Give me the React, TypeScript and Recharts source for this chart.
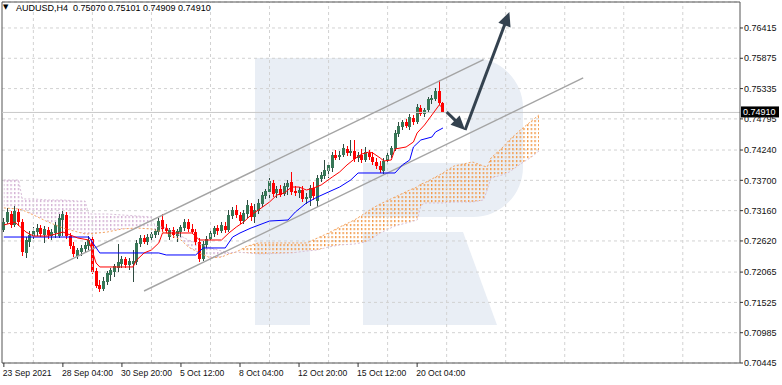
import React from 'react';
import { ComposedChart, Bar, Line, Area, XAxis, YAxis, CartesianGrid, ReferenceLine } from 'recharts';

const FONT = '"Liberation Sans", Arial, sans-serif';
const BULL = '#367656';
const BULL_WICK = '#2E4A40';
const BEAR = '#FF0000';

// AUDUSD H4, one entry per bar (bar 0 = 23 Sep 2021)
const opens = [
  0.72815, 0.72957, 0.73101, 0.72904, 0.73136, 0.72957, 0.72406, 0.72601, 0.72708, 0.72779,
  0.72851, 0.72726, 0.72815, 0.72708, 0.72762, 0.72708, 0.72993, 0.73083, 0.72708, 0.7253,
  0.72352, 0.72423, 0.72477, 0.7253, 0.72655, 0.72084, 0.71835, 0.71764, 0.71888, 0.72013,
  0.72066, 0.72138, 0.7221, 0.72299, 0.72191, 0.7221, 0.72245, 0.72566, 0.72673, 0.72601,
  0.72673, 0.72726, 0.72779, 0.72993, 0.72851, 0.7269, 0.72815, 0.72708, 0.72779, 0.72851,
  0.72957, 0.72833, 0.72779, 0.72601, 0.72299, 0.72548, 0.72655, 0.72744, 0.72851, 0.72797,
  0.72886, 0.72815, 0.73065, 0.73172, 0.73083, 0.72975, 0.73101, 0.73243, 0.73047, 0.73154,
  0.73279, 0.73421, 0.73493, 0.73653, 0.73475, 0.73546, 0.73457, 0.73581, 0.73671, 0.7351,
  0.73475, 0.73528, 0.73368, 0.73386, 0.73564, 0.73332, 0.73724, 0.73777, 0.73866, 0.7392,
  0.74152, 0.74116, 0.74152, 0.74259, 0.74187, 0.74223, 0.74098, 0.74152, 0.74063, 0.74187,
  0.74116, 0.74027, 0.73956, 0.73866, 0.74045, 0.74152, 0.74259, 0.74526, 0.74651, 0.7474,
  0.74651, 0.74811, 0.7474, 0.74989, 0.74883, 0.74954, 0.75132, 0.7515, 0.75292, 0.7507,
];
const highs = [
  0.7303, 0.73208, 0.73154, 0.73243, 0.7319, 0.73012, 0.7269, 0.72797, 0.72868, 0.72922,
  0.72904, 0.72886, 0.72868, 0.72833, 0.72957, 0.73101, 0.73154, 0.73136, 0.72762, 0.72601,
  0.72495, 0.72548, 0.72601, 0.72708, 0.72726, 0.72138, 0.71924, 0.71977, 0.72084, 0.72138,
  0.7221, 0.72566, 0.72352, 0.72334, 0.72317, 0.72459, 0.72637, 0.72726, 0.72726, 0.72744,
  0.72779, 0.72833, 0.7303, 0.73101, 0.72922, 0.72851, 0.72868, 0.72833, 0.72904, 0.73012,
  0.73012, 0.72922, 0.72833, 0.72673, 0.72619, 0.72708, 0.72815, 0.72886, 0.72904, 0.72957,
  0.72957, 0.73172, 0.73225, 0.73261, 0.73136, 0.73172, 0.7335, 0.73297, 0.73279, 0.73368,
  0.73493, 0.73546, 0.73742, 0.73706, 0.73599, 0.73617, 0.73653, 0.73706, 0.73849, 0.73599,
  0.73581, 0.73599, 0.73475, 0.73617, 0.73671, 0.73795, 0.73849, 0.74063, 0.74027, 0.74205,
  0.74241, 0.74223, 0.74348, 0.74312, 0.74419, 0.74419, 0.74205, 0.74259, 0.74294, 0.74241,
  0.74205, 0.74098, 0.74045, 0.74098, 0.74205, 0.74312, 0.74597, 0.7474, 0.74776, 0.74794,
  0.74883, 0.74865, 0.75061, 0.75043, 0.74989, 0.75185, 0.75221, 0.75346, 0.75488, 0.75101,
];
const lows = [
  0.72779, 0.72922, 0.72851, 0.72868, 0.72886, 0.72352, 0.72317, 0.72512, 0.72655, 0.72708,
  0.7269, 0.72584, 0.72655, 0.72637, 0.72673, 0.72673, 0.72708, 0.72655, 0.72477, 0.72334,
  0.72299, 0.72352, 0.72406, 0.72459, 0.72031, 0.71782, 0.7171, 0.71728, 0.71835, 0.71906,
  0.71977, 0.72066, 0.72138, 0.72138, 0.72102, 0.71888, 0.72191, 0.72512, 0.72566, 0.72548,
  0.72619, 0.72673, 0.72726, 0.72779, 0.72762, 0.72637, 0.72673, 0.72601, 0.7269, 0.72797,
  0.72779, 0.72744, 0.72548, 0.72245, 0.72263, 0.72495, 0.72601, 0.7269, 0.72726, 0.72762,
  0.72762, 0.72779, 0.73012, 0.7303, 0.72922, 0.72922, 0.7303, 0.72975, 0.7294, 0.73101,
  0.73225, 0.73368, 0.73368, 0.73403, 0.73386, 0.73403, 0.73421, 0.73439, 0.73439, 0.73421,
  0.73386, 0.73314, 0.73279, 0.73243, 0.7335, 0.73225, 0.73671, 0.73724, 0.73742, 0.73849,
  0.74063, 0.74063, 0.74116, 0.74134, 0.74134, 0.74027, 0.74027, 0.74009, 0.74027, 0.74063,
  0.73974, 0.73902, 0.73831, 0.73813, 0.73991, 0.74098, 0.74223, 0.74472, 0.74597, 0.74633,
  0.74597, 0.74686, 0.74704, 0.74847, 0.74829, 0.74918, 0.75061, 0.75114, 0.75043, 0.74909,
];
const closes = [
  0.72957, 0.73136, 0.72904, 0.73154, 0.72957, 0.72423, 0.72637, 0.72726, 0.72797, 0.72851,
  0.72744, 0.72833, 0.72726, 0.72779, 0.72904, 0.7303, 0.73101, 0.72708, 0.7253, 0.72388,
  0.72459, 0.72495, 0.72548, 0.72637, 0.72066, 0.71817, 0.71764, 0.71906, 0.72049, 0.72102,
  0.72173, 0.72245, 0.72299, 0.72191, 0.72263, 0.72263, 0.72584, 0.72673, 0.72601, 0.7269,
  0.72744, 0.72797, 0.72975, 0.72833, 0.72797, 0.72815, 0.72726, 0.72797, 0.72868, 0.72957,
  0.72833, 0.72779, 0.72601, 0.72299, 0.72566, 0.72655, 0.72762, 0.72851, 0.72797, 0.72904,
  0.72815, 0.73083, 0.73172, 0.73083, 0.72975, 0.73118, 0.73261, 0.73047, 0.73172, 0.73297,
  0.73439, 0.7351, 0.73688, 0.73457, 0.73546, 0.73439, 0.73599, 0.73653, 0.73493, 0.73475,
  0.73528, 0.73368, 0.73403, 0.73564, 0.73421, 0.73742, 0.73795, 0.73884, 0.73974, 0.74152,
  0.74098, 0.74152, 0.74276, 0.74187, 0.74223, 0.7408, 0.74152, 0.74063, 0.74205, 0.74116,
  0.74027, 0.73956, 0.73884, 0.74045, 0.74152, 0.74276, 0.74544, 0.74669, 0.7474, 0.74669,
  0.74829, 0.7474, 0.75007, 0.74883, 0.74954, 0.7515, 0.75168, 0.75292, 0.7507, 0.7491,
];

// Ichimoku lines, read at the bars where they change direction
const tenkanBars = [0, 3, 6, 8, 12, 16, 18, 20, 23, 25, 26, 35, 36, 38, 40, 42, 43, 51, 53, 59, 61, 63, 65, 67, 69, 72, 74, 76, 78, 80, 82, 84, 86, 89, 91, 93, 95, 97, 99, 100, 102, 103, 105, 106, 109, 111, 112, 114, 116, 118, 119];
const tenkanVals = [0.72904, 0.72957, 0.72779, 0.72708, 0.72708, 0.72779, 0.72726, 0.72673, 0.72637, 0.72227, 0.72156, 0.72156, 0.72281, 0.72406, 0.72459, 0.72584, 0.72762, 0.72762, 0.72637, 0.72637, 0.72762, 0.72868, 0.72957, 0.73083, 0.73172, 0.73314, 0.73439, 0.73475, 0.73581, 0.73581, 0.73528, 0.73564, 0.73617, 0.73759, 0.73849, 0.73974, 0.7408, 0.74169, 0.74205, 0.74187, 0.74098, 0.74045, 0.74063, 0.74259, 0.74294, 0.74383, 0.74544, 0.74686, 0.74865, 0.75043, 0.74989];
const kijunBars = [0, 23, 26, 42, 44, 52, 54, 60, 62, 64, 67, 72, 77, 79, 82, 85, 88, 91, 94, 96, 106, 108, 110, 111, 113, 116, 117, 119];
const kijunVals = [0.7269, 0.7269, 0.72406, 0.72406, 0.7237, 0.7237, 0.72495, 0.72495, 0.7269, 0.72762, 0.72851, 0.72975, 0.72993, 0.73136, 0.73297, 0.73403, 0.73493, 0.73581, 0.73706, 0.73831, 0.73831, 0.73974, 0.74063, 0.74294, 0.74419, 0.74472, 0.74562, 0.74633];
const cloudBars = [0, 4, 5, 8, 12, 16, 20, 22, 23, 28, 32, 36, 40, 41, 44, 48, 50, 53, 56, 59, 61, 63, 66, 69, 78, 82, 85, 88, 91, 95, 98, 100, 102, 106, 110, 112, 113, 114, 116, 119, 122, 127, 130, 131, 132, 135, 137, 140, 143, 145];
const spanAVals = [0.73208, 0.7319, 0.73172, 0.73083, 0.72957, 0.72851, 0.72779, 0.72744, 0.72744, 0.72779, 0.72833, 0.72851, 0.72833, 0.72815, 0.72762, 0.72637, 0.72512, 0.72406, 0.72317, 0.72334, 0.72388, 0.72423, 0.7253, 0.72584, 0.72584, 0.72584, 0.72673, 0.72762, 0.72868, 0.72993, 0.73118, 0.73208, 0.73279, 0.73403, 0.73528, 0.73581, 0.73635, 0.73653, 0.73724, 0.73831, 0.73956, 0.74027, 0.73956, 0.73938, 0.74098, 0.74276, 0.74419, 0.74597, 0.74758, 0.74865];
const spanBVals = [0.73706, 0.73706, 0.73368, 0.73368, 0.7335, 0.7335, 0.73332, 0.73332, 0.73101, 0.73101, 0.73083, 0.73065, 0.73047, 0.72886, 0.72851, 0.72708, 0.72637, 0.72566, 0.72495, 0.72441, 0.72406, 0.72423, 0.72406, 0.72388, 0.72406, 0.72441, 0.72459, 0.72512, 0.72548, 0.72566, 0.72601, 0.72673, 0.72762, 0.72886, 0.72957, 0.72993, 0.73243, 0.73297, 0.73297, 0.73297, 0.73314, 0.73314, 0.7335, 0.73528, 0.73742, 0.73795, 0.73849, 0.73991, 0.74116, 0.74223];

// drawn objects, in bar / price units
const upperChannel = [{ x: 12, y: 0.72093 }, { x: 130, y: 0.7585 }];
const lowerChannel = [{ x: 38, y: 0.71728 }, { x: 157, y: 0.75524 }];
const arrowDown = [{ x: 120, y: 0.74918 }, { x: 125, y: 0.74597 }];
const arrowUp = [{ x: 125, y: 0.74597 }, { x: 137, y: 0.767 }];
const lastPrice = 0.7491;

const BAR_SLOTS = 200;
const timeTicks = [0, 16, 32, 48, 64, 80, 96, 112];
const timeLabels = ['23 Sep 2021', '28 Sep 04:00', '30 Sep 20:00', '5 Oct 12:00', '8 Oct 04:00', '12 Oct 20:00', '15 Oct 12:00', '20 Oct 04:00'];
const gridBars = [8, 24, 40, 56, 72, 88, 104, 120, 136, 152, 168, 184];
const priceTicks = [0.70445, 0.70985, 0.71525, 0.72065, 0.7262, 0.7316, 0.737, 0.7424, 0.74795, 0.75335, 0.75875, 0.76415];
const Y_MIN = 0.70445;
const Y_MAX = 0.76878;

const rows: any[] = Array.from({ length: BAR_SLOTS }, (_, i) => ({ idx: i }));
opens.forEach((o, i) => {
  Object.assign(rows[i], { o, h: highs[i], l: lows[i], c: closes[i], range: [lows[i], highs[i]] });
});
tenkanBars.forEach((b, k) => { rows[b].tenkan = tenkanVals[k]; });
kijunBars.forEach((b, k) => { rows[b].kijun = kijunVals[k]; });
cloudBars.forEach((b, k) => {
  const a = spanAVals[k];
  const s = spanBVals[k];
  rows[b].spanA = a;
  rows[b].spanB = s;
  rows[b].upBand = a >= s ? [s, a] : [a, a];
  rows[b].downBand = s >= a ? [a, s] : [s, s];
});

const Candle = (props: any) => {
  const { x, y, width, height, payload } = props;
  if (!payload || payload.o == null || !isFinite(y) || !isFinite(height)) return <g />;
  const { o, h, l, c } = payload;
  const top = Math.min(y, y + height);
  const bottom = Math.max(y, y + height);
  const k = (bottom - top) / (h - l || 1e-9);
  const yO = top + (h - o) * k;
  const yC = top + (h - c) * k;
  const up = c >= o;
  const px = Math.round(x + width / 2 - 0.5);
  const bTop = Math.round(Math.min(yO, yC));
  const bH = Math.max(1, Math.round(Math.max(yO, yC)) - bTop);
  return (
    <g>
      <line x1={px + 0.5} x2={px + 0.5} y1={Math.round(top)} y2={Math.round(bottom)} stroke={up ? BULL_WICK : BEAR} strokeWidth={1} />
      <rect x={px - 1} y={bTop} width={3} height={bH} fill={up ? BULL : BEAR} />
    </g>
  );
};

const Arrow = (p: any) => {
  const { x1, y1, x2, y2 } = p;
  const ang = Math.atan2(y2 - y1, x2 - x1);
  const cos = Math.cos(ang);
  const sin = Math.sin(ang);
  const len = 14;
  const half = 6.5;
  const bx = x2 - len * cos;
  const by = y2 - len * sin;
  const pts = `${x2},${y2} ${bx + half * sin},${by - half * cos} ${bx - half * sin},${by + half * cos}`;
  return (
    <g>
      <line x1={x1} y1={y1} x2={bx + cos} y2={by + sin} stroke="#34424F" strokeWidth={3} />
      <polygon points={pts} fill="#34424F" />
    </g>
  );
};

const TimeTick = (props: any) => {
  const { x, y, payload } = props;
  const k = timeTicks.indexOf(payload.value);
  return (
    <text x={x - 1} y={y + 7} fontSize={8.6} fontFamily={FONT} fill="#111" textAnchor="start">
      {k >= 0 ? timeLabels[k] : ''}
    </text>
  );
};

const PriceTag = (props: any) => {
  const vb = props.viewBox || {};
  const x = vb.x + vb.width + 1;
  const y = vb.y;
  return (
    <g>
      <rect x={x} y={y - 6} width={38} height={11} fill="#000" />
      <text x={x + 2} y={y + 3} fontSize={9} fontFamily={FONT} fill="#fff">{lastPrice.toFixed(5)}</text>
    </g>
  );
};

export default function App() {
  return (
    <div style={{ position: 'absolute', left: 0, top: 0, width: 782, height: 385, background: '#fff', overflow: 'hidden' }}>
      <svg width={782} height={385} style={{ position: 'absolute', left: 0, top: 0 }}>
        <path d="M255 58 H473 A50 50 0 0 1 523 108 V167 A50 50 0 0 1 473 217 H363 V163 H470 V112 H310 V325 H255 Z" fill="#E9EEF5" />
        <path d="M363 232 H463 L497 325 H363 Z" fill="#E9EEF5" />
      </svg>
      <div style={{ position: 'absolute', left: 0, top: 0 }}>
        <ComposedChart width={782} height={385} data={rows} margin={{ top: 2, right: 0, bottom: 0, left: 2 }}>
          <defs>
            <pattern id="hatchUp" patternUnits="userSpaceOnUse" x={3} y={0} width={3.69} height={4}>
              <rect x={0} y={0} width={1.4} height={2.2} fill="#F29A4A" />
            </pattern>
            <pattern id="hatchDown" patternUnits="userSpaceOnUse" x={3} y={0} width={3.69} height={4}>
              <rect x={0} y={0} width={1.4} height={2.2} fill="#D4B2D4" />
            </pattern>
          </defs>
          <CartesianGrid vertical={false} stroke="#D2D2D2" strokeDasharray="3 3" />
          {gridBars.map((b) => (
            <ReferenceLine key={b} x={b} stroke="#D2D2D2" strokeDasharray="3 3" />
          ))}
          <XAxis
            dataKey="idx"
            ticks={timeTicks}
            interval={0}
            height={22}
            tick={<TimeTick />}
            tickSize={4}
            tickLine={{ stroke: '#333' }}
            axisLine={{ stroke: '#555' }}
          />
          <YAxis
            orientation="right"
            width={42}
            domain={[Y_MIN, Y_MAX]}
            allowDataOverflow
            ticks={priceTicks}
            interval={0}
            tickFormatter={(v: number) => v.toFixed(5)}
            tick={{ fontSize: 9, fontFamily: FONT, fill: '#111' }}
            tickSize={3}
            tickMargin={1}
            tickLine={{ stroke: '#333' }}
            axisLine={{ stroke: '#555' }}
          />
          <ReferenceLine x={0} position="start" stroke="#555" />
          <ReferenceLine y={Y_MAX} stroke="#555" />
          <Area dataKey="downBand" type="linear" stroke="none" fill="url(#hatchDown)" fillOpacity={1} connectNulls dot={false} activeDot={false} isAnimationActive={false} />
          <Area dataKey="upBand" type="linear" stroke="none" fill="url(#hatchUp)" fillOpacity={1} connectNulls dot={false} activeDot={false} isAnimationActive={false} />
          <Line dataKey="spanA" type="linear" stroke="#F4A460" strokeWidth={1} strokeDasharray="2 2" connectNulls dot={false} activeDot={false} isAnimationActive={false} />
          <Line dataKey="spanB" type="linear" stroke="#D8BFD8" strokeWidth={1} strokeDasharray="2 2" connectNulls dot={false} activeDot={false} isAnimationActive={false} />
          <ReferenceLine y={lastPrice} stroke="#C8C8C8" label={<PriceTag />} />
          <ReferenceLine segment={upperChannel} stroke="#A4A4A4" strokeWidth={1.4} ifOverflow="visible" />
          <ReferenceLine segment={lowerChannel} stroke="#A4A4A4" strokeWidth={1.4} ifOverflow="visible" />
          <Bar dataKey="range" shape={<Candle />} isAnimationActive={false} />
          <Line dataKey="kijun" type="linear" stroke="#0000FF" strokeWidth={1} connectNulls dot={false} activeDot={false} isAnimationActive={false} />
          <Line dataKey="tenkan" type="linear" stroke="#FF0000" strokeWidth={1} connectNulls dot={false} activeDot={false} isAnimationActive={false} />
          <ReferenceLine segment={arrowDown} shape={Arrow} ifOverflow="visible" />
          <ReferenceLine segment={arrowUp} shape={Arrow} ifOverflow="visible" />
        </ComposedChart>
      </div>
      <div style={{ position: 'absolute', left: 3, top: 3, fontSize: 7, fontFamily: '"DejaVu Sans"', color: '#000' }}>▼</div>
      <div style={{ position: 'absolute', left: 16, top: 3, fontSize: 9, fontFamily: FONT, color: '#000', whiteSpace: 'pre' }}>
        AUDUSD,H4  0.75070 0.75101 0.74909 0.74910
      </div>
    </div>
  );
}
